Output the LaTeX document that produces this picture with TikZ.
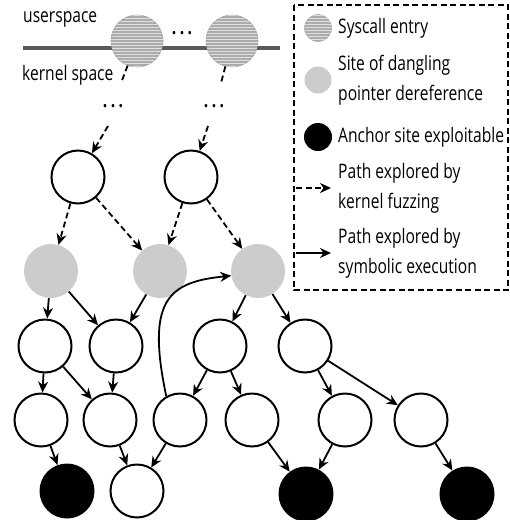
\documentclass[tikz,border=0pt]{standalone}
\usepackage{fontspec}
\setmainfont{Open Sans}[FakeStretch=0.78]
\usetikzlibrary{arrows.meta,patterns}
\begin{document}
\begin{tikzpicture}[x=1pt,y=-1pt,
  nd/.style={circle,draw=black,line width=2pt,fill=white,minimum size=53pt,inner sep=0pt},
  gr/.style={circle,fill=gray!40,minimum size=54pt,inner sep=0pt},
  bk/.style={circle,fill=black,minimum size=55pt,inner sep=0pt},
  sc/.style={circle,draw=gray!80,line width=0.6pt,fill=gray!65,
    postaction={pattern=horizontal lines,pattern color=gray!25},minimum size=52pt,inner sep=0pt},
  arr/.style={line width=1.8pt,-{Stealth[length=11pt,width=10pt]}},
  darr/.style={arr,dash pattern=on 6pt off 3.5pt},
  dln/.style={line width=1.8pt,dash pattern=on 6pt off 3.5pt},
  txt/.style={font=\fontsize{20}{30}\selectfont,inner sep=0pt,anchor=west,align=left}]
\useasboundingbox (0,0) rectangle (510,520);
% userspace / kernel line
\coordinate (ul) at (23,48);
\coordinate (ur) at (280,48);
\draw[gray!70!black,line width=3.5pt] (ul) -- (ur);
\node[sc] (s1) at (137,41) {};
\node[sc] (s2) at (232,41) {};
\node[txt] (tu) at (23,19) {userspace};
\node[txt] (tk) at (22,75) {kernel space};
\node[font=\fontsize{20}{20}\selectfont\bfseries,inner sep=0pt] (d0) at (182,33) {.\,.\,.};
\coordinate (a1) at (121,83);
\coordinate (a2) at (221,83);
\node[font=\fontsize{20}{20}\selectfont\bfseries,inner sep=0pt] (d1) at (113,106) {.\,.\,.};
\node[font=\fontsize{20}{20}\selectfont\bfseries,inner sep=0pt] (d2) at (214,106) {.\,.\,.};
\coordinate (b1) at (108,126);
\coordinate (b2) at (208,126);
\draw[dln] (s1) -- (a1);
\draw[dln] (s2) -- (a2);
% nodes
\node[nd] (t1) at (78,177) {};
\node[nd] (t2) at (191,177) {};
\node[gr] (g1) at (51,271) {};
\node[gr] (g2) at (160,271) {};
\node[gr] (g3) at (258,271) {};
\node[nd] (r1) at (45,346) {};
\node[nd] (r2) at (116,346) {};
\node[nd] (r3) at (220,346) {};
\node[nd] (r4) at (305,346) {};
\node[nd] (q1) at (41,420) {};
\node[nd] (q2) at (110,420) {};
\node[nd] (q3) at (180,420) {};
\node[nd] (q4) at (252,420) {};
\node[nd] (q5) at (345,420) {};
\node[nd] (q6) at (421,420) {};
\node[bk] (k1) at (67,491) {};
\node[nd] (w1) at (137,491) {};
\node[bk] (k2) at (306,494) {};
\node[bk] (k3) at (467,494) {};
% dashed edges
\draw[darr] (b1) -- (t1);
\draw[darr] (b2) -- (t2);
\draw[darr] (t1) -- (g1);
\draw[darr] (t1) -- (g2);
\draw[darr] (t2) -- (g2);
\draw[darr] (t2) -- (g3);
% solid edges
\draw[arr] (g1) -- (r1);
\draw[arr] (g1) -- (r2);
\draw[arr] (g2) -- (r2);
\draw[arr] (g3) -- (r3);
\draw[arr] (g3) -- (r4);
\draw[arr] (r1) -- (q1);
\draw[arr] (r1) -- (q2);
\draw[arr] (r2) -- (q2);
\draw[arr] (r3) -- (q3);
\draw[arr] (r3) -- (q4);
\draw[arr] (r4) -- (q5);
\draw[arr] (r4) -- (q6);
\draw[arr] (q1) -- (k1);
\draw[arr] (q2) -- (w1);
\draw[arr] (q3) -- (w1);
\draw[arr] (q4) -- (k2);
\draw[arr] (q5) -- (k2);
\draw[arr] (q6) -- (k3);
\draw[arr] (q3.120) .. controls (146,300) and (168,282) .. (g3.190);
% legend
\draw[dln] (294,5) rectangle (508,290);
\node[sc,minimum size=27pt,line width=0.4pt] (ls) at (318,28) {};
\node[gr,minimum size=27pt] (lg) at (318,80) {};
\node[bk,minimum size=28pt] (lb) at (318,137) {};
\coordinate (la1) at (296,188);
\coordinate (la2) at (331,188);
\coordinate (lb1) at (296,253);
\coordinate (lb2) at (331,253);
\draw[darr] (la1) -- (la2);
\draw[arr] (lb1) -- (lb2);
\node[txt] (t_s) at (338,28) {Syscall entry};
\node[txt] (t_g) at (338,80) {Site of dangling\\pointer dereference};
\node[txt] (t_b) at (338,137) {Anchor site exploitable};
\node[txt] (t_f) at (338,188) {Path explored by\\kernel fuzzing};
\node[txt] (t_e) at (338,253) {Path explored by\\symbolic execution};
\end{tikzpicture}
\end{document}
